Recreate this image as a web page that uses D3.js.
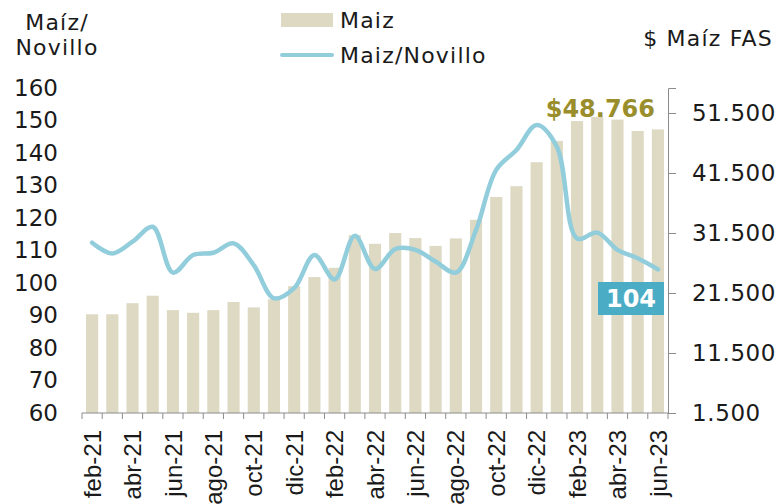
<!DOCTYPE html>
<html lang="es">
<head>
<meta charset="utf-8">
<script src="https://cdn.jsdelivr.net/npm/d3@7"></script>
<style>
  body { margin:0; padding:0; background:#fff; }
  svg text { font-family: "DejaVu Sans", sans-serif; }
  .xlab text { font-family: "Liberation Sans", Arial, sans-serif; }
</style>
</head>
<body>
<div id="chart"></div>
<script>
// meses (feb-21 .. jun-23)
var months = ["feb-21","mar-21","abr-21","may-21","jun-21","jul-21","ago-21","sep-21","oct-21","nov-21","dic-21",
  "ene-22","feb-22","mar-22","abr-22","may-22","jun-22","jul-22","ago-22","sep-22","oct-22","nov-22","dic-22",
  "ene-23","feb-23","mar-23","abr-23","may-23","jun-23"];
// $ Maiz FAS (eje derecho)
var maiz = [17950,17950,19800,21050,18650,18200,18650,20000,19100,20450,22650,
  24150,25700,31150,29700,31500,30650,29350,30600,33700,37500,39300,43300,
  46850,50150,50850,50400,48500,48766];
// relacion Maiz/Novillo (eje izquierdo)
var relacion = [112.4,109.1,112.7,117.3,103.2,108.6,109.3,112.2,105.5,95.3,98.4,
  108.6,101.1,114.5,104.3,110.4,110.2,106.6,103.2,116.3,134.8,140.9,148.6,
  141.9,113.7,115.5,110.2,107.6,104.2];
var leftTicks = [60,70,80,90,100,110,120,130,140,150,160];
var rightTicks = [1500,11500,21500,31500,41500,51500];
var rightMax = 55667;

var W = 781, H = 504;
var mLeft = 82, mRight = 668, mTop = 88, mBottom = 413;
var ink = "#1a1a1a";

var svg = d3.select("#chart").append("svg").attr("width", W).attr("height", H);

var x = d3.scaleBand().domain(months).range([mLeft, mRight]).paddingInner(0.4).paddingOuter(0.2);
var yL = d3.scaleLinear().domain([60,160]).range([mBottom, mTop]);
var yR = d3.scaleLinear().domain([1500, rightMax]).range([mBottom, mTop]);

// barras
svg.append("g").selectAll("rect").data(maiz).enter().append("rect")
  .attr("x", function(d,i){ return x(months[i]); })
  .attr("width", x.bandwidth())
  .attr("y", function(d){ return yR(d); })
  .attr("height", function(d){ return mBottom - yR(d); })
  .attr("fill", "#ddd9c3");

// linea
var line = d3.line()
  .x(function(d,i){ return x(months[i]) + x.bandwidth()/2; })
  .y(function(d){ return yL(d); })
  .curve(d3.curveCatmullRom.alpha(0.5));
svg.append("path").datum(relacion)
  .attr("d", line).attr("fill","none")
  .attr("stroke","#92cddc").attr("stroke-width",4.5)
  .attr("stroke-linecap","round");

// eje izquierdo
var gl = svg.append("g").attr("transform","translate(" + mLeft + ",0)")
  .call(d3.axisLeft(yL).tickValues(leftTicks).tickSize(0).tickPadding(24));
gl.select(".domain").remove();
gl.selectAll("text").style("font-size","23px").style("fill",ink);

// eje derecho
var gr = svg.append("g").attr("transform","translate(" + mRight + ",0)")
  .call(d3.axisRight(yR).tickValues(rightTicks).tickSize(8).tickPadding(16)
    .tickFormat(function(d){ return d3.format(",")(d).replace(/,/g,"."); }));
gr.select(".domain").attr("stroke","#8c8c8c");
gr.selectAll(".tick line").attr("stroke","#8c8c8c");
gr.selectAll("text").style("font-size","23px").style("letter-spacing","0.6px").style("fill",ink);

// eje inferior
var step = x.step();
var bounds = months.map(function(m){ return x(m) - step*x.paddingInner()/2; }).concat([mRight]);
svg.append("line").attr("x1",mLeft).attr("x2",mRight).attr("y1",mBottom).attr("y2",mBottom)
  .attr("stroke","#8c8c8c");
svg.append("g").selectAll("line").data(bounds).enter().append("line")
  .attr("x1",function(d){return d;}).attr("x2",function(d){return d;})
  .attr("y1",mBottom).attr("y2",mBottom+6).attr("stroke","#8c8c8c");

var gx = svg.append("g").attr("class","xlab").attr("transform","translate(0," + mBottom + ")")
  .call(d3.axisBottom(x).tickValues(months.filter(function(d,i){ return i%2===0; })).tickSize(0));
gx.select(".domain").remove();
gx.selectAll("text")
  .attr("transform","rotate(-90)")
  .attr("x",-17).attr("y",0).attr("dy","0.36em")
  .style("text-anchor","end").style("font-size","24px").style("fill",ink);

// titulos
var t = svg.append("text").attr("text-anchor","middle")
  .style("font-size","22px").style("letter-spacing","1.2px").style("fill",ink);
t.append("tspan").attr("x",57).attr("y",30).text("Maíz/");
t.append("tspan").attr("x",57).attr("y",55).text("Novillo");
svg.append("text").attr("x",773).attr("y",46).attr("text-anchor","end")
  .style("font-size","22px").style("letter-spacing","1.2px").style("fill",ink).text("$ Maíz FAS");

// leyenda
svg.append("rect").attr("x",281).attr("y",13).attr("width",52).attr("height",14).attr("fill","#ddd9c3");
svg.append("text").attr("x",340).attr("y",28).style("font-size","22px").style("letter-spacing","1.2px")
  .style("fill",ink).text("Maiz");
svg.append("line").attr("x1",282).attr("x2",332).attr("y1",55).attr("y2",55)
  .attr("stroke","#92cddc").attr("stroke-width",4).attr("stroke-linecap","round");
svg.append("text").attr("x",340).attr("y",63).style("font-size","22px").style("letter-spacing","1.2px")
  .style("fill",ink).text("Maiz/Novillo");

// anotaciones
var last = months.length - 1;
svg.append("text").attr("x",655).attr("y",117).attr("text-anchor","end")
  .style("font-size","24px").style("font-weight","bold").style("fill","#998e2b")
  .text("$" + d3.format(",")(maiz[last]).replace(/,/g,"."));
svg.append("rect").attr("x",598).attr("y",282).attr("width",66).attr("height",33).attr("fill","#4bacc6");
svg.append("text").attr("x",631).attr("y",307).attr("text-anchor","middle")
  .style("font-size","24px").style("font-weight","bold").style("fill","#fff")
  .text(Math.round(relacion[last]));
</script>
</body>
</html>
